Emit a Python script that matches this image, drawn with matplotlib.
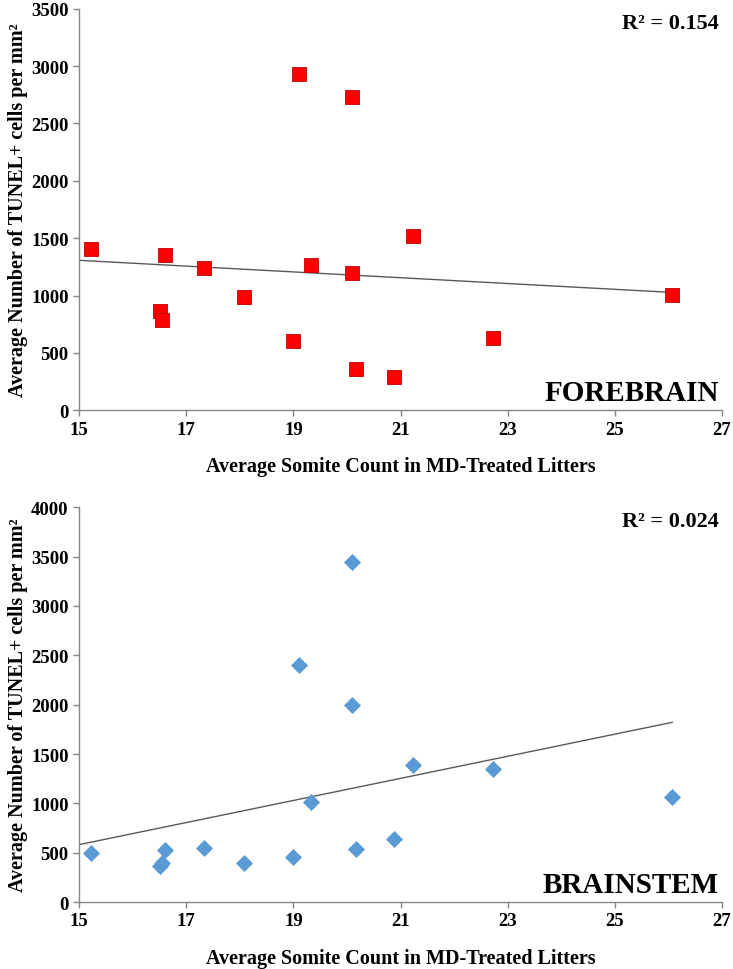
import numpy as np
import matplotlib.pyplot as plt

# somite counts (shared by both panels)
somites = [15.22, 16.50, 16.54, 16.61, 17.33, 18.08, 19.00, 19.10,
           19.32, 20.10, 20.10, 20.16, 20.88, 21.24, 22.73, 26.07]

forebrain = [1410, 866, 785, 1350, 1240, 987, 606, 2935,
             1264, 2732, 1197, 361, 289, 1520, 626, 1001]

brainstem = [502, 370, 396, 528, 551, 396, 459, 2399,
             1013, 3446, 1997, 535, 634, 1393, 1350, 1063]

r2_labels = ['R² = 0.154', 'R² = 0.024']
region_names = ['FOREBRAIN', 'BRAINSTEM']
x_ticks = [15, 17, 19, 21, 23, 25, 27]

plt.rcParams['font.family'] = ['Liberation Serif', 'DejaVu Serif']
plt.rcParams['font.weight'] = 'bold'

fig = plt.figure(figsize=(7.33, 9.70), dpi=100)
ax1 = fig.add_axes([0.108, 0.576, 0.877, 0.414])
ax2 = fig.add_axes([0.108, 0.069, 0.877, 0.407])

panels = [
    (ax1, forebrain, 's', '#ff0000', '#c00000', 3500, 500),
    (ax2, brainstem, 'D', '#5b9bd5', '#5b9bd5', 4000, 500),
]

for i, (ax, vals, marker, color, edge, ymax, ystep) in enumerate(panels):
    ax.scatter(somites, vals, marker=marker, s=100 if marker == 's' else 65,
               color=color, edgecolor=edge, linewidth=0.6, zorder=3)

    # linear trendline from the data
    slope, icpt = np.polyfit(somites, vals, 1)
    xs = np.array([15, max(somites)])
    ax.plot(xs, slope * xs + icpt, color='#595959', lw=1.0, zorder=2)

    ax.set_xlim(15, 27)
    ax.set_ylim(0, ymax)
    ax.set_xticks(x_ticks)
    ax.set_yticks(np.arange(0, ymax + 1, ystep))

    for side in ['top', 'right']:
        ax.spines[side].set_visible(False)
    for side in ['left', 'bottom']:
        ax.spines[side].set_color('#868686')
        ax.spines[side].set_linewidth(1.0)
    ax.tick_params(colors='#868686', labelcolor='black', labelsize=13.5,
                   length=4, width=1.0, direction='out')
    for lab in ax.get_xticklabels() + ax.get_yticklabels():
        lab.set_fontweight('bold')

    ax.set_xlabel('Average Somite Count in MD-Treated Litters',
                  fontsize=14.5, fontweight='bold', labelpad=13)
    ax.set_ylabel('Average Number of TUNEL+ cells per mm²',
                  fontsize=14.5, fontweight='bold', labelpad=2)

    ax.text(0.995, 0.99, r2_labels[i], transform=ax.transAxes,
            ha='right', va='top', fontsize=16, fontweight='bold')
    ax.text(0.995, 0.01, region_names[i], transform=ax.transAxes,
            ha='right', va='bottom', fontsize=21, fontweight='bold')

plt.savefig('out.png', dpi=100)
